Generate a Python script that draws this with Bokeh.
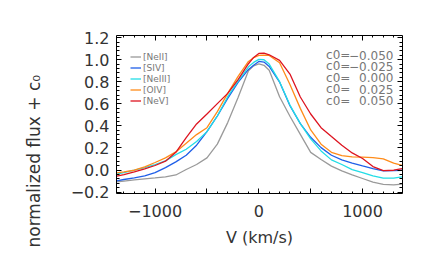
import math
from bokeh.plotting import figure
from bokeh.models import Range1d, FixedTicker, LinearAxis, Title, ColumnDataSource
from bokeh.core.properties import value
from bokeh.embed import file_html
from bokeh.resources import INLINE

# ---- data ----
velocity = [-1370, -1300, -1200, -1100, -1000, -900, -800, -700, -600, -500, -400, -300,
            -200, -100, -50, 0, 50, 100, 200, 300, 400, 500, 600, 700, 800, 900, 1000,
            1100, 1200, 1300, 1380]

flux_neii = [-0.107, -0.100, -0.090, -0.080, -0.072, -0.063, -0.045, 0.005, 0.050, 0.110, 0.235,
             0.430, 0.658, 0.900, 0.945, 0.962, 0.950, 0.905, 0.665, 0.488, 0.323, 0.160, 0.095,
             0.035, -0.008, -0.044, -0.077, -0.110, -0.130, -0.134, -0.128]
flux_siv = [-0.098, -0.086, -0.071, -0.053, -0.023, 0.022, 0.074, 0.134, 0.225, 0.348, 0.490,
            0.650, 0.795, 0.912, 0.951, 0.985, 0.979, 0.939, 0.798, 0.583, 0.421, 0.297, 0.203,
            0.134, 0.092, 0.062, 0.037, 0.013, -0.008, -0.005, -0.002]
flux_neiii = [-0.038, -0.023, -0.002, 0.022, 0.050, 0.083, 0.140, 0.188, 0.258, 0.348, 0.490,
              0.665, 0.807, 0.936, 0.976, 1.003, 1.000, 0.961, 0.801, 0.589, 0.421, 0.282, 0.173,
              0.092, 0.050, 0.004, -0.023, -0.053, -0.074, -0.074, -0.062]
flux_oiv = [-0.026, -0.017, -0.002, 0.028, 0.068, 0.110, 0.164, 0.243, 0.321, 0.384, 0.529,
            0.695, 0.849, 0.985, 1.018, 1.039, 1.042, 1.039, 0.973, 0.776, 0.559, 0.363, 0.234,
            0.161, 0.131, 0.119, 0.116, 0.113, 0.101, 0.062, 0.041]
flux_nev = [-0.056, -0.041, -0.017, 0.010, 0.041, 0.080, 0.161, 0.294, 0.418, 0.508, 0.602,
            0.695, 0.819, 0.964, 1.021, 1.057, 1.060, 1.045, 0.994, 0.870, 0.662, 0.508, 0.384,
            0.303, 0.224, 0.155, 0.104, 0.031, -0.005, -0.002, 0.013]

line_names = ["[NeII]", "[SIV]", "[NeIII]", "[OIV]", "[NeV]"]
line_colors = ["#9a9a9a", "#1f5fe8", "#22dde6", "#ff8c1a", "#dd1420"]
c0_values = [-0.050, -0.025, 0.000, 0.025, 0.050]

x_ticks = [-1000, -500, 0, 500, 1000]
x_tick_labels = ["\u22121000", "", "0", "", "1000"]
y_ticks = [-0.2, 0.0, 0.2, 0.4, 0.6, 0.8, 1.0, 1.2]
y_tick_labels = ["\u22120.2", "0.0", "0.2", "0.4", "0.6", "0.8", "1.0", "1.2"]

FONT = "DejaVu Sans"

p = figure(width=436, height=267, output_backend="svg", toolbar_location=None,
           x_range=Range1d(-1372, 1385), y_range=Range1d(-0.213, 1.22),
           min_border_left=116, min_border_right=34, min_border_top=35, min_border_bottom=74)
p.xgrid.visible = False
p.ygrid.visible = False
p.outline_line_color = None
p.background_fill_color = "white"
p.border_fill_color = "white"

x_minor = [v for v in range(-1300, 1400, 100) if v % 500 != 0]
y_minor = [round(-0.2 + 0.04 * i, 3) for i in range(0, 37)]
y_minor = [v for v in y_minor if abs(round(v / 0.2) * 0.2 - v) > 1e-6]

xt = FixedTicker(ticks=x_ticks, minor_ticks=x_minor)
yt = FixedTicker(ticks=y_ticks, minor_ticks=y_minor)

def style_axis(ax, major_len, minor_len):
    ax.axis_line_color = "black"
    ax.axis_line_width = 1
    ax.major_tick_line_color = "black"
    ax.minor_tick_line_color = "black"
    ax.major_tick_in = major_len
    ax.major_tick_out = 0
    ax.minor_tick_in = minor_len
    ax.minor_tick_out = 0

xa = p.xaxis[0]
xa.ticker = xt
xa.major_label_overrides = {t: l for t, l in zip(x_ticks, x_tick_labels)}
xa.major_label_text_font = FONT
xa.major_label_text_font_size = "16px"
xa.major_label_text_color = "#333333"
xa.major_label_standoff = 11
xa.axis_label = "V (km/s)"
xa.axis_label_text_font = FONT
xa.axis_label_text_font_size = "16px"
xa.axis_label_text_font_style = "normal"
xa.axis_label_text_color = "#333333"
xa.axis_label_standoff = 8
style_axis(xa, 5, 2)

ya = p.yaxis[0]
ya.ticker = yt
ya.major_label_overrides = {t: l for t, l in zip(y_ticks, y_tick_labels)}
ya.major_label_text_font = FONT
ya.major_label_text_font_size = "16px"
ya.major_label_text_color = "#333333"
ya.major_label_standoff = 7
# blank axis label only used as spacing between tick labels and the rotated title
ya.axis_label = "\u2009"
ya.axis_label_text_font_size = "2px"
ya.axis_label_standoff = 14
style_axis(ya, 5, 3)

top = LinearAxis(ticker=xt, major_label_text_font_size="0px", major_label_standoff=0)
top.major_label_overrides = {t: "" for t in x_ticks}
style_axis(top, 5, 2)
p.add_layout(top, "above")
right = LinearAxis(ticker=yt, major_label_text_font_size="0px", major_label_standoff=0)
right.major_label_overrides = {t: "" for t in y_ticks}
style_axis(right, 5, 3)
p.add_layout(right, "right")

series = [flux_neii, flux_siv, flux_neiii, flux_oiv, flux_nev]
for name, col, ys in zip(line_names, line_colors, series):
    p.line(velocity, ys, line_color=col, line_width=1.3, legend_label=name)

lg = p.legend[0]
lg.location = (14, 87)
lg.border_line_color = None
lg.background_fill_alpha = 0
lg.padding = 0
lg.margin = 0
lg.spacing = 0
lg.label_height = 11
lg.glyph_height = 11
lg.glyph_width = 11
lg.label_standoff = 2
lg.label_text_font = FONT
lg.label_text_font_size = "9px"
lg.label_text_color = "#777777"

# c0 annotations on the right
row_y = [1.043, 0.939, 0.835, 0.731, 0.627]
num_txt = [("\u2212" if c < 0 else "") + "%.3f" % abs(c) for c in c0_values]
src = ColumnDataSource(dict(xs=[648] * 5, xe=[1298] * 5, y=row_y,
                            a=["c0="] * 5, b=num_txt))
p.text(x="xs", y="y", text="a", source=src, text_align="left", text_baseline="middle",
       text_font=value(FONT), text_font_size="12px", text_color="#777777")
p.text(x="xe", y="y", text="b", source=src, text_align="right", text_baseline="middle",
       text_font=value(FONT), text_font_size="12px", text_color="#777777")

ytitle = Title(text="normalized flux + c\u2080", align="left", offset=-54,
               text_font=FONT, text_font_size="17px", text_font_style="normal",
               text_color="#333333")
p.add_layout(ytitle, "left")

open("out.html", "w").write(file_html(p, INLINE))
